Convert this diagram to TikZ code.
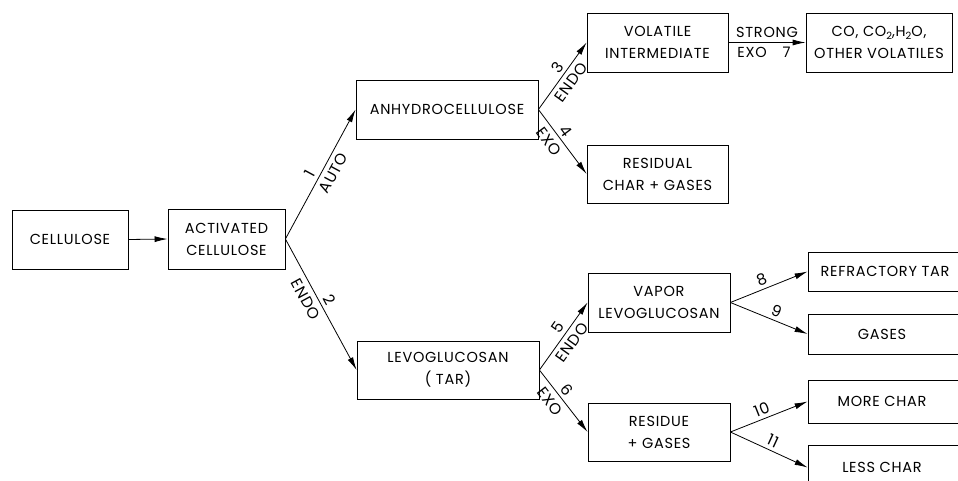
\documentclass[tikz,border=0pt]{standalone}
\usepackage{fontspec}
\setmainfont{Poppins}[LetterSpace=5]
\usetikzlibrary{arrows.meta}
\newcommand\lowtwo{\raisebox{-0.4ex}{\fontsize{10}{10}\selectfont 2}}
\begin{document}
\begin{tikzpicture}[x=1pt,y=-1pt,
  every node/.style={font=\fontsize{14.5}{22}\selectfont},
  box/.style={draw,line width=0.8pt,align=center,inner sep=0pt,anchor=center},
  arr/.style={line width=0.8pt,-{Latex[length=13pt,width=6pt]}},
  lab/.style={sloped,inner sep=3.5pt,font=\fontsize{15.5}{16}\selectfont},
  labb/.style={lab,inner sep=5pt}]
\useasboundingbox (0,0) rectangle (958,481);
\clip (0,0) rectangle (958,481);
% boxes
\node[box,minimum width=116pt,minimum height=59pt] (cell) at (70,239.5) {CELLULOSE};
\node[box,minimum width=117pt,minimum height=60pt] (act) at (226.5,239) {ACTIVATED\\CELLULOSE};
\node[box,minimum width=182pt,minimum height=59pt] (anhy) at (447,109.5) {ANHYDROCELLULOSE};
\node[box,minimum width=141pt,minimum height=59pt] (vol) at (657.5,42.5) {VOLATILE\\INTERMEDIATE};
\node[box,minimum width=146pt,minimum height=59pt] (co) at (879,42.5) {CO, CO\lowtwo,H\lowtwo O,\\OTHER VOLATILES};
\node[box,minimum width=141pt,minimum height=58pt] (resid) at (657.5,174) {RESIDUAL\\CHAR + GASES};
\node[box,minimum width=182pt,minimum height=58pt] (levo) at (448,370) {LEVOGLUCOSAN\\( TAR)};
\node[box,minimum width=142pt,minimum height=59pt] (vapor) at (659,302.5) {VAPOR\\LEVOGLUCOSAN};
\node[box,minimum width=142pt,minimum height=58pt] (resg) at (659,432) {RESIDUE\\+ GASES};
\node[box,minimum width=160pt,minimum height=39pt] (refr) at (888,271.5) {\hspace*{-6pt}REFRACTORY TAR};
\node[box,minimum width=160pt,minimum height=40pt] (gas) at (888,334) {\hspace*{-12pt}GASES};
\node[box,minimum width=160pt,minimum height=43pt] (more) at (888,401.5) {\hspace*{-12pt}MORE CHAR};
\node[box,minimum width=160pt,minimum height=45pt] (less) at (888,467.5) {\hspace*{-12pt}LESS CHAR};
% connectors
\draw[arr] (cell.east) -- (act.west);
\draw[arr] (act.east) -- node[lab,above,pos=0.47] (l1a) {1} node[labb,below,pos=0.55] (l1b) {AUTO} (anhy.west);
\draw[arr] (act.east) -- node[lab,above,pos=0.5] (l2a) {2} node[labb,below,pos=0.42] (l2b) {ENDO} (levo.west);
\draw[arr] (anhy.east) -- node[lab,above,pos=0.55] (l3a) {3} node[labb,below,pos=0.5] (l3b) {ENDO} (vol.west);
\draw[arr] (anhy.east) -- node[lab,above,pos=0.42] (l4a) {4} node[labb,below,pos=0.4] (l4b) {EXO} (resid.west);
\draw[arr] (levo.east) -- node[lab,above,pos=0.55] (l5a) {5} node[labb,below,pos=0.5] (l5b) {ENDO} (vapor.west);
\draw[arr] (levo.east) -- node[lab,above,pos=0.42] (l6a) {6} node[labb,below,pos=0.4] (l6b) {EXO} (resg.west);
\draw[arr] (vol.east) -- node[above,inner sep=4pt] (l7a) {STRONG} node[below,inner sep=4pt,xshift=-3pt] (l7b) {EXO\hspace{16pt}7} (co.west);
\draw[arr] (vapor.east) -- node[lab,above,pos=0.45] (l8) {8} (refr.west);
\draw[arr] (vapor.east) -- node[lab,above,pos=0.55] (l9) {9} (gas.west);
\draw[arr] (resg.east) -- node[lab,above,pos=0.45] (l10) {10} (more.west);
\draw[arr] (resg.east) -- node[lab,above,pos=0.5] (l11) {11} (less.west);
\end{tikzpicture}
\end{document}
